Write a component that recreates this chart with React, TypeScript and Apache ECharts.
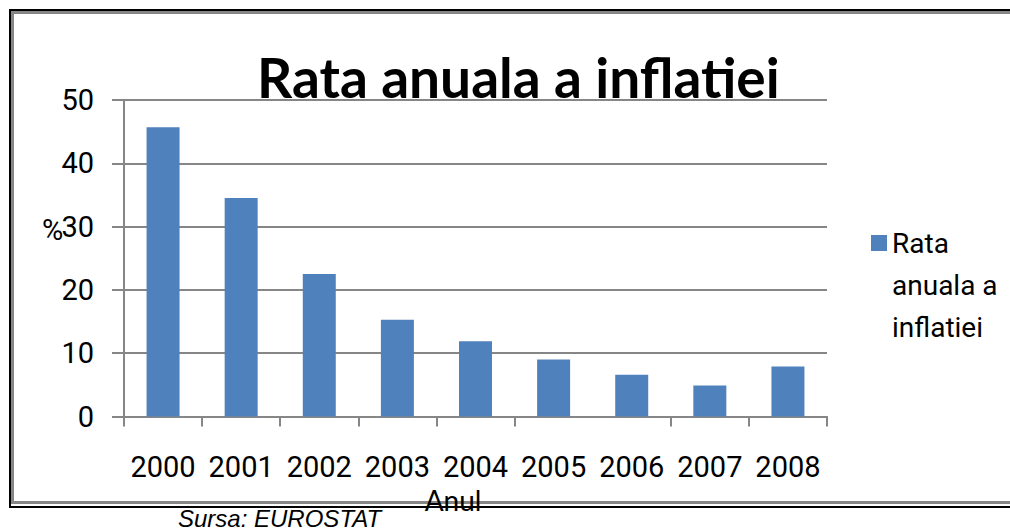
import React, { useEffect, useRef } from "react";
import * as echarts from "echarts";

const years = ["2000", "2001", "2002", "2003", "2004", "2005", "2006", "2007", "2008"];
const inflation = [45.7, 34.5, 22.5, 15.3, 11.9, 9.0, 6.6, 4.9, 7.9];
const seriesName = "Rata anuala a inflatiei";
const legendLines = ["Rata", "anuala a", "inflatiei"];
const titleText = "Rata anuala a inflatiei";
const yAxisName = "%";
const xAxisName = "Anul";
const sourceText = "Sursa: EUROSTAT";

const GRAY = "#868686";
const BAR = "#4F81BD";
const NUM_FONT = "Roboto, 'Noto Sans', sans-serif";
const TITLE_FONT = "Lato, 'Open Sans', sans-serif";

export default function App() {
  const ref = useRef<HTMLDivElement>(null);
  useEffect(() => {
    if (!ref.current) return;
    const chart = echarts.init(ref.current, undefined, { renderer: "svg" });
    chart.setOption({
      animation: false,
      backgroundColor: "#ffffff",
      title: {
        text: titleText,
        left: 257,
        top: 49,
        padding: 0,
        textStyle: {
          fontFamily: TITLE_FONT,
          fontWeight: "bold",
          fontSize: 55,
          color: "#000",
        },
      },
      legend: {
        left: 866,
        top: 133,
        orient: "vertical",
        itemWidth: 16,
        itemHeight: 16,
        icon: "rect",
        data: [seriesName],
        formatter: () => "\n\n" + legendLines.join("\n"),
        textStyle: {
          fontFamily: NUM_FONT,
          fontSize: 28,
          lineHeight: 42,
          color: "#000",
        },
      },
      grid: { left: 124, top: 100, width: 703, height: 316.5, containLabel: false },
      xAxis: {
        type: "category",
        data: years,
        name: xAxisName,
        nameLocation: "middle",
        nameGap: 55,
        nameTextStyle: {
          fontFamily: TITLE_FONT,
          fontSize: 28,
          color: "#000",
          align: "center",
          verticalAlign: "top",
          padding: [0, 45, 0, 0],
        },
        axisLine: { show: true, lineStyle: { color: GRAY, width: 2 } },
        axisTick: {
          show: true,
          length: 10,
          lineStyle: { color: GRAY, width: 2 },
          interval: (i: number) => i !== 6,
        },
        axisLabel: {
          interval: 0,
          margin: 36,
          fontFamily: NUM_FONT,
          fontSize: 29,
          color: "#000",
        },
      },
      yAxis: {
        type: "value",
        min: 0,
        max: 50,
        interval: 10,
        axisLine: { show: true, lineStyle: { color: GRAY, width: 2 } },
        axisTick: { show: true, length: 12, lineStyle: { color: GRAY, width: 2 } },
        splitLine: { show: true, lineStyle: { color: GRAY, width: 2 } },
        axisLabel: {
          margin: 30,
          fontFamily: NUM_FONT,
          fontSize: 29,
          color: "#000",
        },
      },
      series: [
        {
          name: seriesName,
          type: "bar",
          data: inflation,
          barWidth: 33,
          itemStyle: { color: BAR },
        },
      ],
      graphic: [
        {
          type: "polyline",
          z: -10,
          silent: true,
          shape: { points: [[1020, 10], [10, 10], [10, 507], [1020, 507]] },
          style: { fill: "none", stroke: "#000", lineWidth: 2 },
        },
        {
          type: "polyline",
          z: -10,
          silent: true,
          shape: { points: [[1020, 12.5], [12.5, 12.5], [12.5, 502.5], [1020, 502.5]] },
          style: { fill: "none", stroke: GRAY, lineWidth: 3 },
        },
        {
          type: "text",
          left: 42,
          top: 215,
          style: {
            text: yAxisName,
            font: "29px Roboto, 'Noto Sans', sans-serif",
            fill: "#000",
          },
        },
        {
          type: "text",
          left: 178,
          top: 506,
          style: {
            text: sourceText,
            font: "italic 24px 'Liberation Sans', Arial, sans-serif",
            fill: "#000",
          },
        },
      ],
    });
    return () => chart.dispose();
  }, []);
  return (
    <div
      ref={ref}
      style={{ position: "absolute", left: 0, top: 0, width: 1010, height: 531 }}
    />
  );
}
